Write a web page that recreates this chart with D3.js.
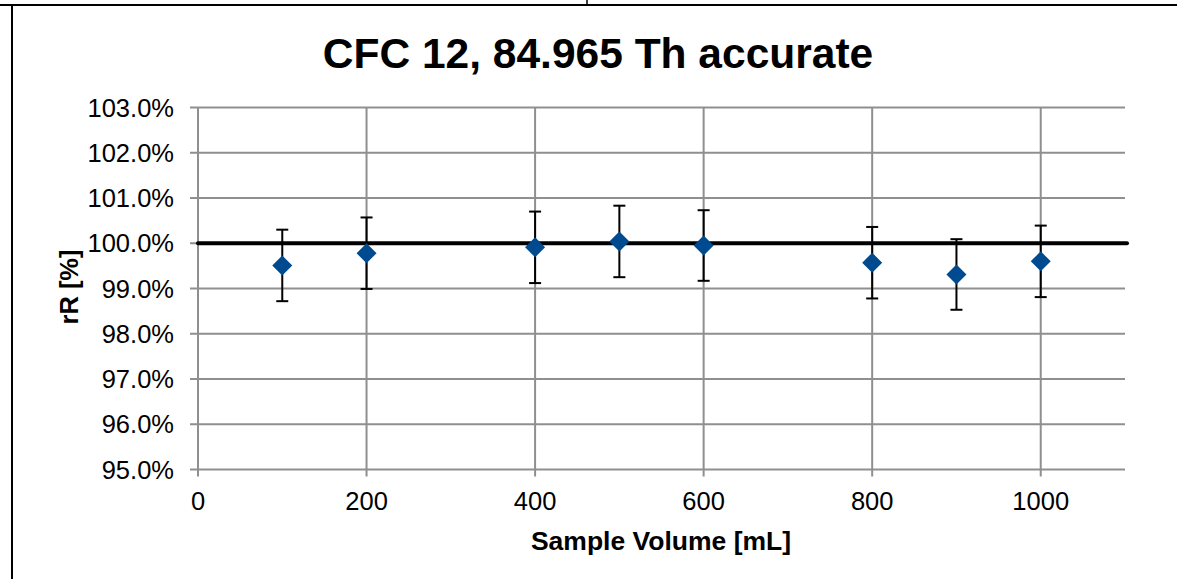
<!DOCTYPE html>
<html lang="en">
<head>
  <meta charset="utf-8" />
  <title>CFC 12, 84.965 Th accurate</title>
  <script src="https://cdn.jsdelivr.net/npm/d3@7"></script>
  <style>
    body { margin: 0; background: #fff; }
    text { font-family: "Liberation Sans", Arial, sans-serif; }
  </style>
</head>
<body>
<script>
  // data
  var volumes = [100, 200, 400, 500, 600, 800, 900, 1000];
  var recovery = [99.51, 99.78, 99.91, 100.04, 99.95, 99.57, 99.31, 99.60];
  var errors = [0.79, 0.79, 0.79, 0.79, 0.78, 0.79, 0.78, 0.79];
  var xTicks = [0, 200, 400, 600, 800, 1000];
  var yTicks = [95, 96, 97, 98, 99, 100, 101, 102, 103];
  var refValue = 100;

  var w = 1177;
  var h = 579;
  var plot = {left: 198, right: 1125, top: 107.5, bottom: 469.5};

  var svg = d3.select("body")
            .append("svg")
            .attr("width", w)
            .attr("height", h);

  // frame lines of the surrounding table
  svg.append("line")
      .attr("x1", 0).attr("x2", w)
      .attr("y1", 5).attr("y2", 5)
      .style("stroke", "#000").style("stroke-width", 2);
  svg.append("line")
      .attr("x1", 12).attr("x2", 12)
      .attr("y1", 5).attr("y2", h)
      .style("stroke", "#000").style("stroke-width", 2);
  svg.append("line")
      .attr("x1", 587).attr("x2", 587)
      .attr("y1", 0).attr("y2", 5)
      .style("stroke", "#000").style("stroke-width", 1.5);

  var x = d3.scaleLinear().domain([0, 1100]).range([plot.left, plot.right]);
  var y = d3.scaleLinear().domain([95, 103]).range([plot.bottom, plot.top]);

  var gridColor = "#8f8f8f";

  // horizontal grid
  svg.selectAll("line.hgrid")
      .data(yTicks)
      .enter()
      .append("line")
      .attr("class", "hgrid")
      .attr("x1", plot.left - 8)
      .attr("x2", plot.right)
      .attr("y1", function(d) { return y(d); })
      .attr("y2", function(d) { return y(d); })
      .style("stroke", gridColor)
      .style("stroke-width", 2);

  // vertical grid
  svg.selectAll("line.vgrid")
      .data(xTicks)
      .enter()
      .append("line")
      .attr("class", "vgrid")
      .attr("x1", function(d) { return x(d); })
      .attr("x2", function(d) { return x(d); })
      .attr("y1", plot.top)
      .attr("y2", plot.bottom + 7)
      .style("stroke", gridColor)
      .style("stroke-width", 2);

  // y tick labels
  svg.selectAll("text.ylab")
      .data(yTicks)
      .enter()
      .append("text")
      .attr("class", "ylab")
      .text(function(d) { return d.toFixed(1) + "%"; })
      .attr("x", 174)
      .attr("y", function(d) { return y(d) + 9; })
      .attr("font-size", "25.5px")
      .attr("text-anchor", "end")
      .attr("fill", "#000");

  // x tick labels
  svg.selectAll("text.xlab")
      .data(xTicks)
      .enter()
      .append("text")
      .attr("class", "xlab")
      .text(function(d) { return d; })
      .attr("x", function(d) { return x(d); })
      .attr("y", 510)
      .attr("font-size", "25.5px")
      .attr("text-anchor", "middle")
      .attr("fill", "#000");

  // 100% reference line
  svg.append("line")
      .attr("x1", plot.left)
      .attr("x2", plot.right + 2)
      .attr("y1", y(refValue))
      .attr("y2", y(refValue))
      .style("stroke", "#000")
      .style("stroke-width", 4)
      .style("stroke-linecap", "round");

  var points = volumes.map(function(v, i) {
    return {x: v, y: recovery[i], e: errors[i]};
  });

  // error bars
  var eb = svg.selectAll("g.err")
      .data(points)
      .enter()
      .append("g")
      .attr("class", "err")
      .style("stroke", "#000")
      .style("stroke-width", 2);
  eb.append("line")
      .attr("x1", function(d) { return x(d.x); })
      .attr("x2", function(d) { return x(d.x); })
      .attr("y1", function(d) { return y(d.y + d.e); })
      .attr("y2", function(d) { return y(d.y - d.e); });
  eb.append("line")
      .attr("x1", function(d) { return x(d.x) - 6; })
      .attr("x2", function(d) { return x(d.x) + 6; })
      .attr("y1", function(d) { return y(d.y + d.e); })
      .attr("y2", function(d) { return y(d.y + d.e); });
  eb.append("line")
      .attr("x1", function(d) { return x(d.x) - 6; })
      .attr("x2", function(d) { return x(d.x) + 6; })
      .attr("y1", function(d) { return y(d.y - d.e); })
      .attr("y2", function(d) { return y(d.y - d.e); });

  // diamond markers
  svg.selectAll("path.pt")
      .data(points)
      .enter()
      .append("path")
      .attr("class", "pt")
      .attr("d", "M0,-10L10,0L0,10L-10,0Z")
      .attr("transform", function(d) { return "translate(" + x(d.x) + "," + y(d.y) + ")"; })
      .attr("fill", "#004a8f");

  // titles
  svg.append("text")
      .text("CFC 12, 84.965 Th accurate")
      .attr("x", 598)
      .attr("y", 68)
      .attr("font-size", "42.5px")
      .attr("font-weight", "bold")
      .attr("text-anchor", "middle");

  svg.append("text")
      .text("Sample Volume [mL]")
      .attr("x", 661)
      .attr("y", 550)
      .attr("font-size", "26.5px")
      .attr("font-weight", "bold")
      .attr("text-anchor", "middle");

  svg.append("text")
      .text("rR [%]")
      .attr("transform", "translate(78,287) rotate(-90)")
      .attr("font-size", "25.5px")
      .attr("font-weight", "bold")
      .attr("text-anchor", "middle");
</script>
</body>
</html>
